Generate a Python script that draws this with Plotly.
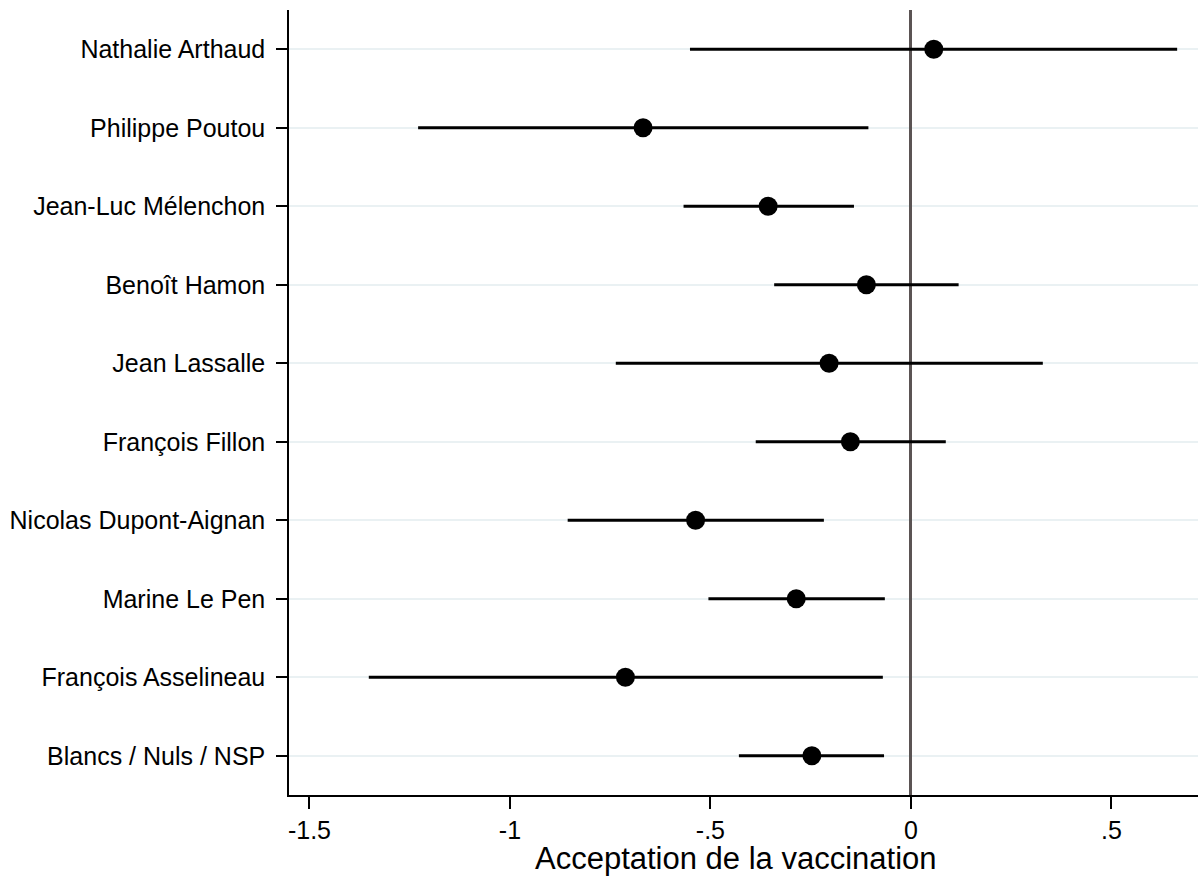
import plotly.graph_objects as go

candidates = ["Nathalie Arthaud", "Philippe Poutou", "Jean-Luc Mélenchon", "Benoît Hamon",
              "Jean Lassalle", "François Fillon", "Nicolas Dupont-Aignan", "Marine Le Pen",
              "François Asselineau", "Blancs / Nuls / NSP"]
estimate = [0.057, -0.668, -0.356, -0.111, -0.204, -0.151, -0.537, -0.286, -0.712, -0.247]
ci_low = [-0.551, -1.229, -0.567, -0.341, -0.736, -0.387, -0.856, -0.505, -1.352, -0.429]
ci_high = [0.664, -0.106, -0.142, 0.119, 0.329, 0.087, -0.217, -0.065, -0.070, -0.067]
x_tickvals = [-1.5, -1, -0.5, 0, 0.5]
x_ticktext = ["-1.5", "-1", "-.5", "0", ".5"]

err_plus = [h - e for h, e in zip(ci_high, estimate)]
err_minus = [e - l for e, l in zip(estimate, ci_low)]

fig = go.Figure()
fig.add_trace(go.Scatter(
    x=estimate, y=candidates, mode="markers",
    marker=dict(color="black", size=19, line=dict(width=0)),
    error_x=dict(type="data", symmetric=False, array=err_plus, arrayminus=err_minus,
                 color="black", thickness=3, width=0),
    showlegend=False,
))

font_family = "Liberation Sans, Arial, Helvetica, sans-serif"
fig.update_layout(
    width=1199, height=876,
    margin=dict(l=289, r=1, t=10, b=81),
    paper_bgcolor="white", plot_bgcolor="white",
    font=dict(family=font_family, size=25, color="black"),
    xaxis=dict(
        range=[-1.551, 0.716], tickvals=x_tickvals, ticktext=x_ticktext,
        showgrid=False, zeroline=True, zerolinecolor="#5b5454", zerolinewidth=2.5,
        showline=True, linecolor="black", linewidth=1.5,
        ticks="outside", ticklen=12, tickwidth=1.5, tickcolor="black",
        tickfont=dict(size=25),
    ),
    yaxis=dict(
        type="category", categoryorder="array", categoryarray=candidates,
        range=[9.5, -0.5],
        showgrid=True, gridcolor="#eaf1f3", gridwidth=2, zeroline=False,
        showline=True, linecolor="black", linewidth=1.5,
        ticks="outside", ticklen=11, tickwidth=1.5, tickcolor="black",
        tickfont=dict(size=25), ticklabelstandoff=6,
    ),
    annotations=[dict(
        text="Acceptation de la vaccination", xref="paper", yref="paper",
        x=0.4917, y=0, yshift=-63, xanchor="center", yanchor="middle",
        showarrow=False, font=dict(size=31, family=font_family, color="black"),
    )],
)

fig.write_html(
    "out.html",
    config={"displayModeBar": False},
    post_script="document.body.style.margin='0';document.body.style.overflow='hidden';",
)
